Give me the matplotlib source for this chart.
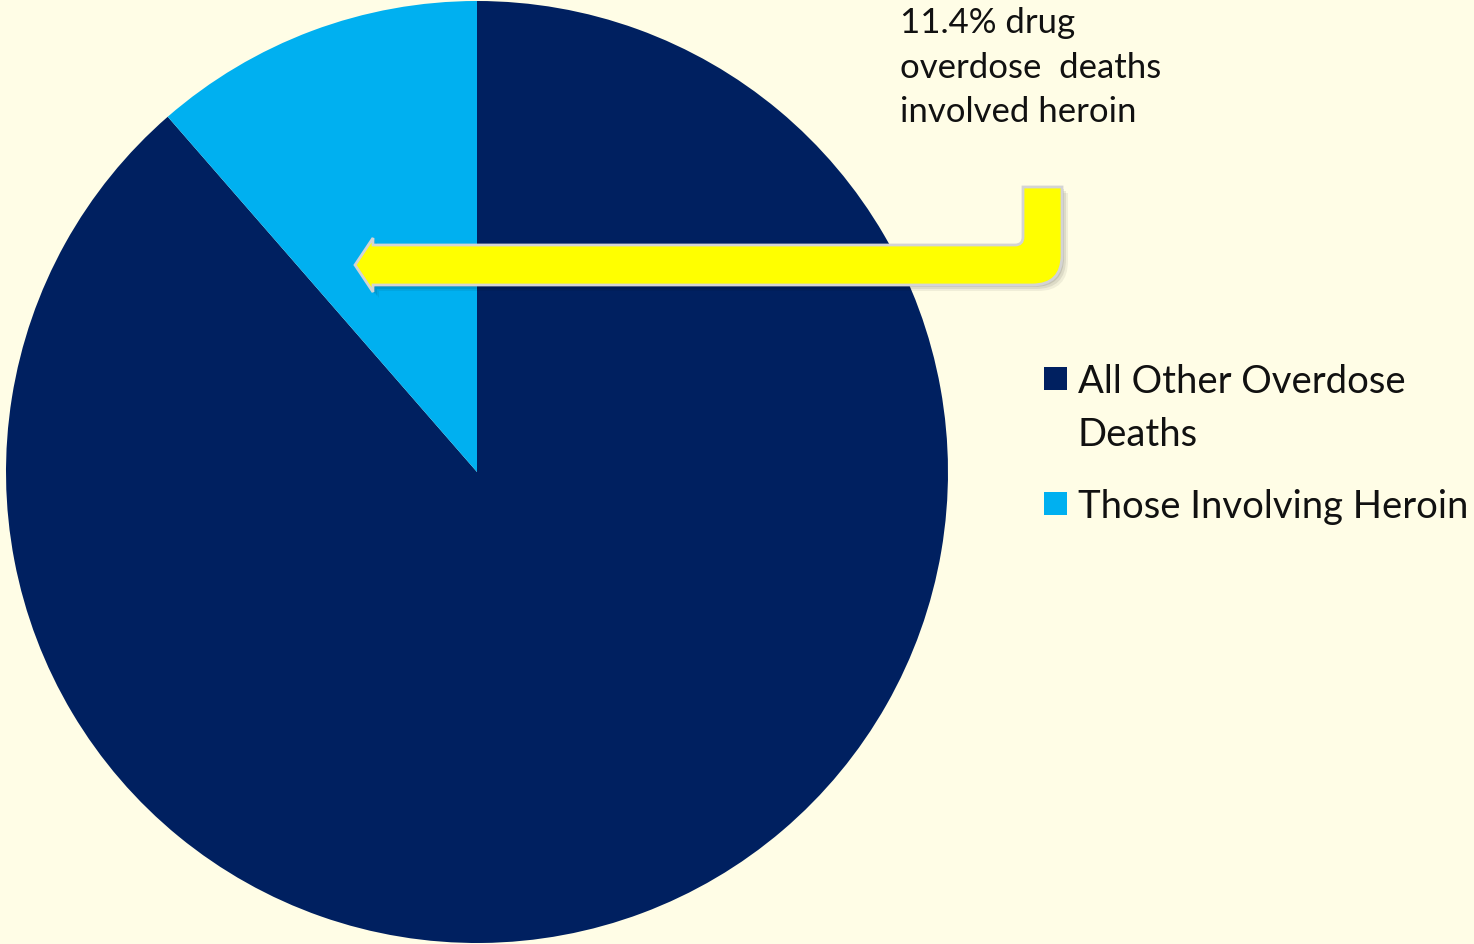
import matplotlib.pyplot as plt
from matplotlib.path import Path
from matplotlib.patches import PathPatch, Rectangle

# Data
labels = ['All Other Overdose\nDeaths', 'Those Involving Heroin']
shares = [88.6, 11.4]
colors = ['#002060', '#00B0F0']
note = '11.4% drug\noverdose  deaths\ninvolved heroin'

W, H = 1474, 944
bg = '#FFFDE6'
plt.rcParams['font.family'] = ['Lato', 'DejaVu Sans']

fig = plt.figure(figsize=(W / 100, H / 100), dpi=100, facecolor=bg)
ax = fig.add_axes([0, 0, 1, 1])
ax.set_facecolor(bg)

wedges, _ = ax.pie(shares, colors=colors, startangle=90, counterclock=False,
                   center=(477, 472), radius=471, frame=True,
                   wedgeprops=dict(linewidth=0))
ax.set_xlim(0, W)
ax.set_ylim(0, H)
ax.set_aspect('equal')
ax.axis('off')


# bent arrow (pixel coords, y measured from top)
def p(x, y):
    return (x, H - y)


verts = [p(1023, 187), p(1062, 187), p(1062, 255), p(1062, 285), p(1032, 285),
         p(373, 285), p(373, 292), p(355, 265), p(373, 238), p(373, 245),
         p(1015, 245), p(1023, 245), p(1023, 237), p(1023, 187)]
codes = [Path.MOVETO, Path.LINETO, Path.LINETO, Path.CURVE3, Path.CURVE3,
         Path.LINETO, Path.LINETO, Path.LINETO, Path.LINETO, Path.LINETO,
         Path.LINETO, Path.CURVE3, Path.CURVE3, Path.CLOSEPOLY]
for k, a in [(6, 0.06), (4, 0.08), (2, 0.1)]:
    shadow = [(x + k, y - k) for x, y in verts]
    ax.add_patch(PathPatch(Path(shadow, codes), facecolor='#000000', alpha=a,
                           edgecolor='none', zorder=3))
ax.add_patch(PathPatch(Path(verts, codes), facecolor='#FFFF00',
                       edgecolor='#D4D4D4', linewidth=2, zorder=4))

for i, line in enumerate(note.split('\n')):
    ax.text(900, H - (33 + 44.5 * i), line, fontsize=25, va='baseline',
            ha='left', color='#111111', zorder=5)

# legend
legend_y = [367, 492]
for lab, col, y in zip(labels, colors, legend_y):
    ax.add_patch(Rectangle(p(1044, y + 23), 23, 23, facecolor=col,
                           edgecolor='none'))
    for i, line in enumerate(lab.split('\n')):
        ax.text(1078, H - (y + 26 + 53 * i), line, fontsize=27.5,
                va='baseline', ha='left', color='#111111')

fig.savefig('out.png', dpi=100, facecolor=bg)
